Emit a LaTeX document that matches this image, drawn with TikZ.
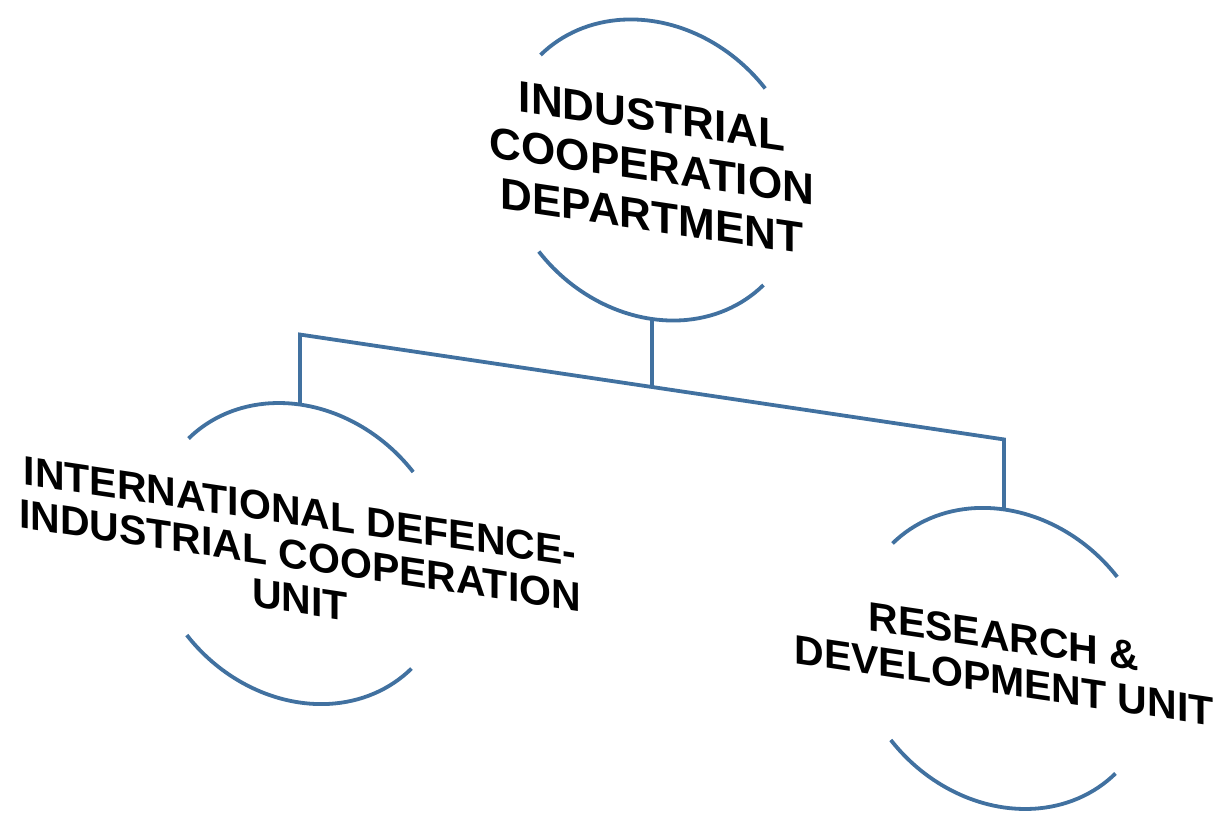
\documentclass[tikz,border=0pt]{standalone}
\usepackage{fontspec}
\setmainfont{Liberation Sans}
\definecolor{ringblue}{RGB}{65,113,160}
\tikzstyle{ring} = [circle, minimum size=300pt, inner sep=0pt, outer sep=0pt, transform shape]
\tikzstyle{arcline} = [draw=ringblue, line width=3.8pt]
\tikzstyle{link} = [draw=ringblue, line width=3.8pt]
\tikzstyle{headtext} = [align=center, inner sep=0pt, transform shape, font=\bfseries\fontsize{44}{50}\selectfont]
\tikzstyle{unittext} = [align=center, inner sep=0pt, transform shape, font=\bfseries\fontsize{41}{44}\selectfont]
\begin{document}
\begin{tikzpicture}[x=1pt, y=1pt]
    \useasboundingbox (0,0) rectangle (1216,-813);
    \begin{scope}[shift={(652,-170)}, yslant=-0.149]
        \node (topring) [ring] at (0,0) {};
        \node (intlring) [ring] at (-352,-436) {};
        \node (rdring) [ring] at (352,-436) {};

        \node (toptext) [headtext] at (0,4) {INDUSTRIAL\\COOPERATION\\DEPARTMENT};
        \node (intltext) [unittext] at (-352,-438) {INTERNATIONAL DEFENCE-\\INDUSTRIAL COOPERATION\\UNIT};
        \node (rdtext) [unittext] at (352,-436) {RESEARCH \&\\DEVELOPMENT UNIT};

        % open rings: upper and lower arcs only
        \foreach \r in {topring, intlring, rdring} {
            \draw [arcline] (\r.41.5) arc[start angle=41.5, end angle=138.5, radius=150];
            \draw [arcline] (\r.221.5) arc[start angle=221.5, end angle=318.5, radius=150];
        }

        \coordinate (fork) at (0,-217);
        \coordinate (lcorner) at (-352,-217);
        \coordinate (rcorner) at (352,-217);
        \draw [link] (topring.south) -- (fork);
        \draw [link] (intlring.north) -- (lcorner) -- (rcorner) -- (rdring.north);
    \end{scope}
\end{tikzpicture}
\end{document}
